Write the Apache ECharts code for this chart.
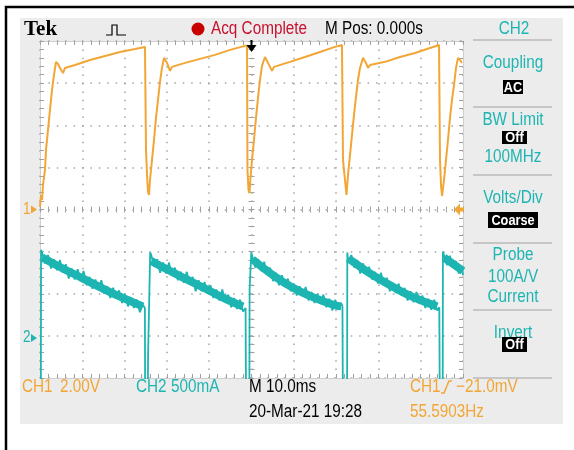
<!DOCTYPE html>
<html>
<head>
<meta charset="utf-8">
<script src="https://cdn.jsdelivr.net/npm/echarts@6/dist/echarts.min.js"></script>
<style>html,body{margin:0;background:#fff}#main{width:574px;height:450px}</style>
</head>
<body>
<div id="main"></div>
<script>
// CH1 voltage trace (time in ms, 2 V/div)
var ch1Time = [0, 0.24, 0.47, 0.71, 1.18, 1.42, 1.89, 2.36, 2.84, 3.31,
  3.78, 4.26, 4.73, 5.44, 5.91, 8.27, 11.82, 15.37, 18.91, 22.46,
  24.82, 25.06, 25.30, 25.53, 25.77, 26.00, 26.48, 26.95, 27.42, 27.90,
  28.37, 28.84, 29.31, 30.02, 30.73, 31.21, 34.28, 37.83, 41.37, 44.92,
  48.46, 48.94, 49.05, 49.29, 49.53, 49.76, 50.12, 50.59, 51.06, 51.54,
  52.01, 52.48, 53.19, 53.90, 54.85, 55.32, 59.10, 62.65, 66.19, 69.74,
  71.39, 71.63, 72.10, 72.46, 72.81, 73.29, 73.76, 74.23, 74.70, 75.18,
  75.65, 76.36, 77.07, 77.54, 78.01, 81.56, 85.11, 88.65, 92.20, 94.33,
  94.56, 94.80, 95.04, 95.51, 95.98, 96.45, 96.93, 97.40, 97.87, 98.35,
  98.82, 99.29, 99.76];
var ch1Volt = [0.12, 0.69, 0.45, 1.16, 1.88, 2.83, 3.78, 4.73, 5.68, 6.39,
  7.01, 6.91, 6.72, 6.48, 6.72, 6.86, 7.10, 7.29, 7.48, 7.62,
  7.72, 2.83, 1.64, 0.83, 0.69, 1.40, 2.35, 3.30, 4.35, 5.20,
  6.06, 6.72, 7.20, 6.96, 6.58, 6.77, 6.96, 7.15, 7.34, 7.58,
  7.77, 7.77, 1.88, 0.93, 0.78, 1.50, 2.35, 3.30, 4.35, 5.30,
  6.15, 6.82, 7.24, 6.96, 6.58, 6.77, 7.01, 7.24, 7.48, 7.72,
  7.81, 2.35, 1.40, 0.69, 1.64, 2.59, 3.54, 4.49, 5.34, 6.15,
  6.72, 7.20, 6.96, 6.72, 6.86, 7.01, 7.24, 7.43, 7.67, 7.81,
  2.35, 1.16, 0.64, 1.40, 2.35, 3.30, 4.35, 5.20, 5.91, 6.72,
  7.20, 7.10, 6.96];

// CH2 current trace (A, 500 mA/div), noisy ramps
var ch2Time = [0.2, 0.25,
  0.5, 1.2, 1.9, 2.6, 3.3, 4.0, 4.7, 5.4, 6.1, 6.8, 7.5, 8.2, 8.9, 9.6, 10.3, 11.0, 11.7, 12.4,
  13.1, 13.8, 14.5, 15.2, 15.9, 16.6, 17.3, 18.0, 18.7, 19.4, 20.1, 20.8, 21.5, 22.2, 22.9, 23.6, 24.3,
  24.8, 24.85, 25.5, 25.55, 26.0, 26.05,
  26.3, 27.0, 27.7, 28.4, 29.1, 29.8, 30.5, 31.2, 31.9, 32.6, 33.3, 34.0, 34.7, 35.4, 36.1, 36.8,
  37.5, 38.2, 38.9, 39.6, 40.3, 41.0, 41.7, 42.4, 43.1, 43.8, 44.5, 45.2, 45.9, 46.6, 47.3, 48.0,
  48.6, 48.7, 49.5, 49.55, 49.9, 49.95,
  50.2, 50.9, 51.6, 52.3, 53.0, 53.7, 54.4, 55.1, 55.8, 56.5, 57.2, 57.9, 58.6, 59.3, 60.0, 60.7,
  61.4, 62.1, 62.8, 63.5, 64.2, 64.9, 65.6, 66.3, 67.0, 67.7, 68.4, 69.1, 69.8, 70.5, 71.2,
  71.5, 71.6, 72.6, 72.65,
  72.9, 73.6, 74.3, 75.0, 75.7, 76.4, 77.1, 77.8, 78.5, 79.2, 79.9, 80.6, 81.3, 82.0, 82.7, 83.4,
  84.1, 84.8, 85.5, 86.2, 86.9, 87.6, 88.3, 89.0, 89.7, 90.4, 91.1, 91.8, 92.5, 93.2, 93.9,
  94.4, 94.5, 95.2, 95.25,
  95.5, 96.2, 96.9, 97.6, 98.3, 99.0, 99.7, 100];
var ch2Amp = [-0.7, 1.02,
  0.99, 0.86, 0.96, 0.80, 0.91, 0.78, 0.90, 0.75, 0.85, 0.68, 0.80, 0.67, 0.79, 0.65, 0.77, 0.60, 0.70, 0.56,
  0.67, 0.55, 0.66, 0.50, 0.59, 0.45, 0.57, 0.44, 0.54, 0.39, 0.49, 0.35, 0.46, 0.33, 0.43, 0.28, 0.37,
  0.33, -0.7, -0.7, -0.23, -0.23, 0.99,
  0.96, 0.82, 0.91, 0.75, 0.87, 0.74, 0.87, 0.71, 0.81, 0.66, 0.76, 0.63, 0.76, 0.61, 0.70, 0.53,
  0.66, 0.53, 0.64, 0.50, 0.60, 0.45, 0.55, 0.42, 0.55, 0.40, 0.49, 0.34, 0.45, 0.32, 0.43, 0.29,
  0.33, -0.7, -0.7, 0.55, 0.55, 0.99,
  0.97, 0.81, 0.91, 0.77, 0.88, 0.73, 0.81, 0.65, 0.75, 0.60, 0.72, 0.58, 0.68, 0.53, 0.62, 0.48,
  0.59, 0.47, 0.58, 0.42, 0.52, 0.39, 0.50, 0.38, 0.49, 0.34, 0.44, 0.30, 0.43, 0.31, 0.39,
  0.35, -0.7, -0.7, 0.99,
  0.87, 0.96, 0.81, 0.90, 0.74, 0.86, 0.73, 0.82, 0.67, 0.76, 0.62, 0.75, 0.60, 0.69, 0.53, 0.63,
  0.51, 0.62, 0.48, 0.57, 0.42, 0.53, 0.40, 0.52, 0.38, 0.48, 0.33, 0.44, 0.31, 0.43, 0.30,
  0.34, -0.7, -0.7, 1.0,
  0.99, 0.84, 0.95, 0.81, 0.89, 0.74, 0.83, 0.72];

// centre of the noise band, one list per ramp
var ch2CoreTime = [[0.5, 5.4, 10.2, 14.9, 19.6, 24.3], [26.3, 30.0, 34.7, 39.5, 44.2, 48.0],
  [50.2, 55.1, 59.8, 64.5, 69.3, 71.2], [72.9, 74.0, 78.7, 83.5, 88.2, 93.9], [95.5, 98.6, 100]];
var ch2CoreAmp = [[0.93, 0.80, 0.68, 0.56, 0.45, 0.35], [0.89, 0.79, 0.67, 0.55, 0.43, 0.35],
  [0.91, 0.72, 0.57, 0.46, 0.37, 0.35], [0.92, 0.88, 0.72, 0.58, 0.46, 0.35], [0.93, 0.82, 0.77]];

var ch1Color = '#f2a635';
var ch2Color = '#1db5b2';
var sans = "'Liberation Sans',Arial,sans-serif";

var chart = echarts.init(document.getElementById('main'));

var tickStyle = {color: '#a0a0a0', width: 1};
function edgeAxis(pos, min, max, interval, extra) {
  var a = {
    type: 'value', position: pos, min: min, max: max, interval: interval,
    axisLabel: {show: false},
    axisLine: {show: true, onZero: false, lineStyle: {color: '#cfcfcf', width: 1}},
    axisTick: {show: true, inside: true, length: 4, lineStyle: tickStyle},
    minorTick: {show: true, splitNumber: 5, length: 4, lineStyle: tickStyle},
    splitLine: {show: false}
  };
  return Object.assign(a, extra || {});
}
function centerAxis(pos, min, max, interval, inside, zeroIdx) {
  return {
    type: 'value', position: pos, min: min, max: max, interval: interval,
    axisLabel: {show: false},
    axisLine: {show: false, onZero: true, onZeroAxisIndex: zeroIdx},
    axisTick: {show: true, inside: inside, length: 3, lineStyle: tickStyle},
    minorTick: {show: true, splitNumber: 5, length: 3, lineStyle: tickStyle},
    splitLine: {show: false}
  };
}
var dotted = {show: true, lineStyle: {color: '#a4a4a4', width: 1.5, type: [1.5, 6.9]}};

function txt(x, y, s, color, size, align, weight) {
  return {type: 'text', x: x, y: y, z: 100, scaleX: 0.85, style: {
    text: s, fill: color, textAlign: align || 'left', textVerticalAlign: 'middle',
    font: (weight || 'normal') + ' ' + (size || 18) + 'px ' + sans}};
}
function box(x, y, w, h, s) {
  return [
    {type: 'rect', z: 100, shape: {x: x, y: y, width: w, height: h}, style: {fill: '#000'}},
    txt(x + w / 2, y + h / 2 + 0.5, s, '#fff', 15, 'center', 'bold')
  ];
}
function sep(y) {
  return {type: 'line', z: 100, shape: {x1: 473, y1: y, x2: 552, y2: y}, style: {stroke: '#c6c6c6', lineWidth: 2}};
}

var graphics = [
  {type: 'rect', z: -2, shape: {x: 20, y: 18, width: 543, height: 406}, style: {fill: '#ececec'}},
  {type: 'rect', z: -1, shape: {x: 40, y: 41, width: 423, height: 337}, style: {fill: '#fff'}},
  {type: 'polyline', z: 100, shape: {points: [[574, 7], [6, 7], [6, 450]]}, style: {stroke: '#000', lineWidth: 2.5, fill: null}},
  {type: 'text', x: 24, y: 30, z: 100, style: {text: 'Tek', fill: '#000', textVerticalAlign: 'middle', font: 'bold 21px "Liberation Serif"'}},
  {type: 'polyline', z: 100, shape: {points: [[106, 35], [112, 35], [112, 25], [117, 25], [117, 35], [126, 35]]}, style: {stroke: '#000', lineWidth: 1.2, fill: null}},
  {type: 'circle', z: 100, shape: {cx: 198, cy: 29, r: 6.5}, style: {fill: '#c80000'}},
  txt(211, 29, 'Acq Complete', '#c8102e'),
  txt(325, 29, 'M Pos: 0.000s', '#000'),
  txt(514, 29, 'CH2', ch2Color, 18, 'center'),
  sep(40), sep(107), sep(175), sep(243), sep(310), sep(378),
  txt(513, 63, 'Coupling', ch2Color, 18, 'center'),
  txt(513, 120, 'BW Limit', ch2Color, 18, 'center'),
  txt(513, 157, '100MHz', ch2Color, 18, 'center'),
  txt(513, 198, 'Volts/Div', ch2Color, 18, 'center'),
  txt(513, 255, 'Probe', ch2Color, 18, 'center'),
  txt(513, 277, '100A/V', ch2Color, 18, 'center'),
  txt(513, 297, 'Current', ch2Color, 18, 'center'),
  txt(513, 333, 'Invert', ch2Color, 18, 'center'),
  // channel markers and trigger marks
  txt(23, 209.5, '1', ch1Color, 16),
  {type: 'polygon', z: 100, shape: {points: [[31, 205.5], [37, 209.5], [31, 213.5]]}, style: {fill: ch1Color}},
  txt(23, 338, '2', ch2Color, 16),
  {type: 'polygon', z: 100, shape: {points: [[31, 334], [37, 338], [31, 342]]}, style: {fill: ch2Color}},
  {type: 'line', z: 100, shape: {x1: 251.5, y1: 40, x2: 251.5, y2: 47}, style: {stroke: '#000', lineWidth: 2}},
  {type: 'polygon', z: 100, shape: {points: [[246.5, 45], [256.5, 45], [251.5, 52]]}, style: {fill: '#000'}},
  {type: 'polygon', z: 100, shape: {points: [[454, 209.5], [460, 203.5], [460, 207.5], [464, 207.5], [464, 211.5], [460, 211.5], [460, 215.5]]}, style: {fill: ch1Color}},
  // bottom readout
  txt(22, 387, 'CH1', ch1Color),
  txt(60, 387, '2.00V', ch1Color),
  txt(136, 387, 'CH2', ch2Color),
  txt(171, 387, '500mA', ch2Color),
  txt(249, 387, 'M 10.0ms', '#000'),
  txt(249, 412, '20-Mar-21 19:28', '#000'),
  txt(410, 387, 'CH1', ch1Color),
  {type: 'polyline', z: 100, shape: {points: [[441, 393], [444, 393], [449, 381], [452, 381]]}, style: {stroke: ch1Color, lineWidth: 1.5, fill: null}},
  txt(456, 387, '\u221221.0mV', ch1Color),
  txt(410, 412, '55.5903Hz', ch1Color)
].concat(box(503, 80, 20, 14, 'AC'), box(502, 131, 25, 13, 'Off'), box(488, 212, 50, 16, 'Coarse'), box(502, 337, 25, 15, 'Off'));

var series = [{
  type: 'line', xAxisIndex: 0, yAxisIndex: 0, symbol: 'none',
  data: ch1Time.map(function (t, i) { return [t, ch1Volt[i]]; }),
  lineStyle: {color: ch1Color, width: 2}, z: 4
}];
ch2CoreTime.forEach(function (ts, k) {
  series.push({
    type: 'line', xAxisIndex: 0, yAxisIndex: 2, symbol: 'none', smooth: true,
    data: ts.map(function (t, i) { return [t, ch2CoreAmp[k][i]]; }),
    lineStyle: {color: ch2Color, width: 8}, z: 3
  });
});
series.push({
  type: 'line', xAxisIndex: 0, yAxisIndex: 2, symbol: 'none',
  data: ch2Time.map(function (t, i) { return [t, ch2Amp[i]]; }),
  lineStyle: {color: ch2Color, width: 1.8}, z: 3
});

chart.setOption({
  animation: false,
  backgroundColor: '#fff',
  grid: {left: 40, top: 41, width: 423, height: 337, containLabel: false},
  xAxis: [
    edgeAxis('bottom', 0, 100, 10, {splitLine: dotted}),
    edgeAxis('top', 0, 100, 10),
    centerAxis('bottom', 0, 100, 10, true, 0),
    centerAxis('bottom', 0, 100, 10, false, 0),
    {type: 'value', min: -50, max: 50, show: false}
  ],
  yAxis: [
    edgeAxis('left', -8, 8, 2, {splitLine: dotted}),
    edgeAxis('right', -8, 8, 2),
    {type: 'value', min: -0.5, max: 3.5, interval: 0.5, show: false},
    centerAxis('left', -8, 8, 2, true, 4),
    centerAxis('left', -8, 8, 2, false, 4)
  ],
  graphic: graphics,
  series: series
});
</script>
</body>
</html>
